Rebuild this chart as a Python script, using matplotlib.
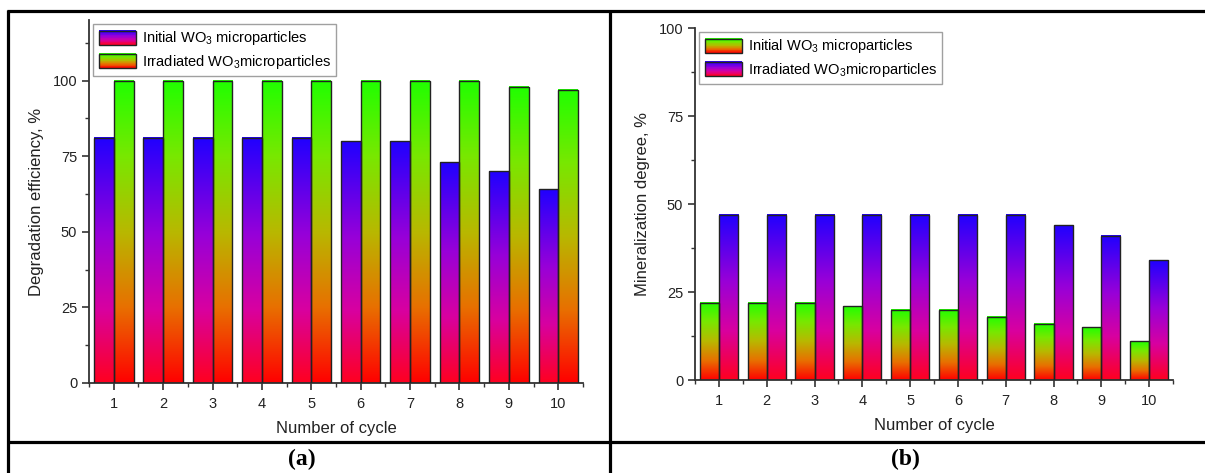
import numpy as np
import matplotlib
matplotlib.use('Agg')
import matplotlib.pyplot as plt
from matplotlib.colors import LinearSegmentedColormap
from matplotlib.legend_handler import HandlerBase
from matplotlib.patches import Rectangle
from matplotlib.lines import Line2D
from matplotlib.ticker import MultipleLocator

plt.rcParams['font.family'] = ['Liberation Sans', 'DejaVu Sans']
plt.rcParams['mathtext.default'] = 'regular'

cycles = [1, 2, 3, 4, 5, 6, 7, 8, 9, 10]
deg_initial = [81, 81, 81, 81, 81, 80, 80, 73, 70, 64]
deg_irradiated = [100, 100, 100, 100, 100, 100, 100, 100, 98, 97]
min_initial = [22, 22, 22, 21, 20, 20, 18, 16, 15, 11]
min_irradiated = [47, 47, 47, 47, 47, 47, 47, 44, 41, 34]

label_init = 'Initial WO$_3$ microparticles'
label_irr = 'Irradiated WO$_3$microparticles'

# bottom -> top colours of the gradient fills
blue_red = LinearSegmentedColormap.from_list(
    'br', [(0, '#ff0020'), (0.3, '#d800a0'), (0.6, '#9800d8'), (1, '#2000ff')])
green_red = LinearSegmentedColormap.from_list(
    'gr', [(0, '#ff0000'), (0.25, '#e87000'), (0.5, '#b8b800'), (0.75, '#78e800'), (1, '#20ff00')])

grad = np.linspace(0, 1, 256).reshape(-1, 1)
edge = '#222222'


class GradProxy:
    def __init__(self, cmap):
        self.cmap = cmap


class GradHandler(HandlerBase):
    def create_artists(self, legend, orig_handle, xdescent, ydescent,
                       width, height, fontsize, trans):
        arts = []
        n = 20
        for i in range(n):
            r = Rectangle((-xdescent, -ydescent + height * i / n), width, height / n + 0.1,
                          facecolor=orig_handle.cmap((i + 0.5) / n), edgecolor='none',
                          transform=trans)
            arts.append(r)
        arts.append(Rectangle((-xdescent, -ydescent), width, height, facecolor='none',
                              edgecolor=edge, lw=1.0, transform=trans))
        return arts


def grad_bars(ax, x, vals, cmap, width=0.4):
    for xi, v in zip(x, vals):
        ax.imshow(grad, cmap=cmap, origin='lower', aspect='auto',
                  extent=[xi - width / 2, xi + width / 2, 0, v], zorder=2,
                  interpolation='bilinear')
    ax.bar(x, vals, width=width, facecolor='none', edgecolor=edge, lw=1.0, zorder=3)


def style_axes(ax, ymax):
    ax.set_xlim(0.5, 10.5)
    ax.set_ylim(0, ymax)
    for s in ['top', 'right']:
        ax.spines[s].set_visible(False)
    for s in ['left', 'bottom']:
        ax.spines[s].set_linewidth(1.3)
        ax.spines[s].set_color('#333333')
    ax.set_xticks(cycles)
    ax.set_xticks(np.arange(0.5, 11, 1), minor=True)
    ax.set_yticks([0, 25, 50, 75, 100])
    ax.yaxis.set_minor_locator(MultipleLocator(12.5))
    ax.tick_params(which='major', length=5, width=1.2, color='#333333', labelsize=10.5,
                   labelcolor='#222222')
    ax.tick_params(which='minor', length=3, width=1.0, color='#333333')
    ax.tick_params(axis='x', pad=5)
    ax.set_xlabel('Number of cycle', fontsize=12, color='#222222', labelpad=7)


fig = plt.figure(figsize=(12.05, 4.73), dpi=100)

ax1 = fig.add_axes([0.0739, 0.1903, 0.4099, 0.7674])
x = np.array(cycles)
grad_bars(ax1, x - 0.2, deg_initial, blue_red)
grad_bars(ax1, x + 0.2, deg_irradiated, green_red)
style_axes(ax1, 120)
ax1.set_ylabel('Degradation efficiency, %', fontsize=12, color='#222222', labelpad=6)
leg1 = ax1.legend([GradProxy(blue_red), GradProxy(green_red)], [label_init, label_irr],
                  handler_map={GradProxy: GradHandler()}, loc='upper left',
                  bbox_to_anchor=(0.0, 1.0), fontsize=10.5, frameon=True, fancybox=False,
                  handlelength=2.6, handleheight=1.1, borderpad=0.35, labelspacing=0.35,
                  handletextpad=0.4, borderaxespad=0.3)
leg1.get_frame().set_edgecolor('#888888')
leg1.get_frame().set_linewidth(1.0)

ax2 = fig.add_axes([0.5768, 0.1966, 0.3967, 0.7442])
grad_bars(ax2, x - 0.2, min_initial, green_red)
grad_bars(ax2, x + 0.2, min_irradiated, blue_red)
style_axes(ax2, 100)
ax2.set_ylabel('Mineralization degree, %', fontsize=12, color='#222222', labelpad=6)
leg2 = ax2.legend([GradProxy(green_red), GradProxy(blue_red)], [label_init, label_irr],
                  handler_map={GradProxy: GradHandler()}, loc='upper left',
                  bbox_to_anchor=(0.0, 1.0), fontsize=10.5, frameon=True, fancybox=False,
                  handlelength=2.6, handleheight=1.1, borderpad=0.35, labelspacing=0.35,
                  handletextpad=0.4, borderaxespad=0.3)
leg2.get_frame().set_edgecolor('#888888')
leg2.get_frame().set_linewidth(1.0)

# table frame around the two panels
W, H = 1205.0, 473.0
def hline(y, x0, x1):
    fig.add_artist(Line2D([x0 / W, x1 / W], [1 - y / H, 1 - y / H], color='black', lw=2.3,
                          solid_capstyle='butt'))
def vline(x, y0, y1):
    fig.add_artist(Line2D([x / W, x / W], [1 - y0 / H, 1 - y1 / H], color='black', lw=2.3,
                          solid_capstyle='butt'))

hline(11, 7, 1205)
hline(442, 7, 1205)
vline(8, 10, 473)
vline(610, 10, 473)

fig.text(302 / W, 1 - 459 / H, '(a)', fontsize=17, fontweight='bold',
         family='Liberation Serif', ha='center', va='center')
fig.text(905 / W, 1 - 459 / H, '(b)', fontsize=17, fontweight='bold',
         family='Liberation Serif', ha='center', va='center')

fig.savefig('out.png', dpi=100)
